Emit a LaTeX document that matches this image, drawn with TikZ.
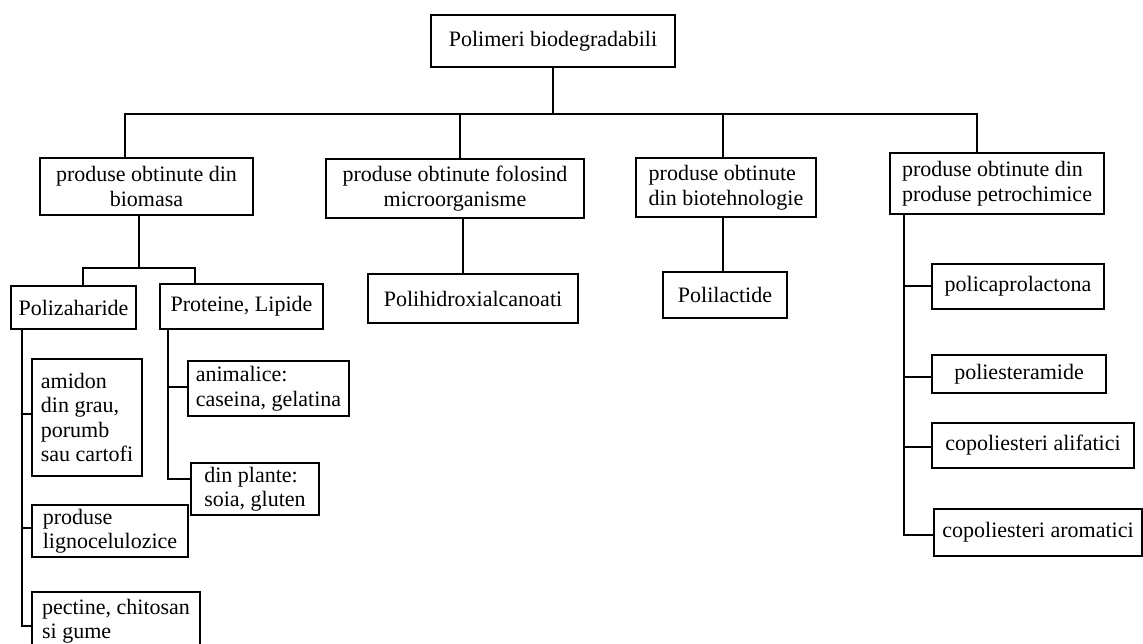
\documentclass[tikz,border=0pt]{standalone}
\usepackage{fontspec}
\setmainfont{Liberation Serif}
\newcommand\bx[7]{\node[box,minimum width={(#4-#2)*1pt},minimum height={(#5-#3)*1pt},#6] (#1) at ({(#2+#4)/2},{(#3+#5)/2}) {#7};}
\begin{document}
\begin{tikzpicture}[x=1pt,y=-1pt,
  box/.style={draw,line width=1.4pt,inner sep=0pt,font=\fontsize{22}{24.5}\selectfont},
  conn/.style={line width=1.4pt}]
\useasboundingbox (0,0) rectangle (1143,644);
% boxes
\bx{root}{431}{15}{675}{67}{align=center}{Polimeri biodegradabili}
\bx{bio}{40}{158}{253}{215}{align=center}{produse obtinute din\\biomasa}
\bx{micro}{326}{159}{584}{218}{align=center}{produse obtinute folosind\\microorganisme}
\bx{biot}{636}{158}{816}{217}{align=left}{produse obtinute\\din biotehnologie}
\bx{petro}{890}{153}{1104}{214}{align=left}{produse obtinute din\\produse petrochimice}
\bx{poliz}{11}{286}{136}{329}{align=center}{Polizaharide}
\bx{prot}{160}{284}{323}{329}{align=center}{Proteine, Lipide}
\bx{amid}{32}{359}{142}{476}{align=left}{amidon\\din grau,\\porumb\\sau cartofi}
\bx{anim}{188}{361}{349}{416}{align=left}{animalice:\\caseina, gelatina}
\bx{plant}{191}{463}{319}{515}{align=left}{din plante:\\soia, gluten}
\bx{ligno}{32}{505}{188}{557}{align=left}{produse\\lignocelulozice}
\bx{pect}{32}{592}{200}{650}{align=left}{pectine, chitosan\\si gume}
\bx{polih}{368}{274}{578}{323}{align=center}{Polihidroxialcanoati}
\bx{polil}{663}{272}{787}{318}{align=center}{Polilactide}
\bx{pcl}{932}{264}{1104}{309}{align=center}{policaprolactona}
\bx{pea}{932}{355}{1106}{393}{align=center}{poliesteramide}
\bx{cali}{932}{423}{1134}{468}{align=center}{copoliesteri alifatici}
\bx{carom}{934}{509}{1142}{556}{align=center}{copoliesteri aromatici}
% junction coordinates
\coordinate (b1) at (125,114);
\coordinate (b2) at (460,114);
\coordinate (b3) at (723,114);
\coordinate (b4) at (977,114);
\coordinate (s0) at (139,268);
\coordinate (s1) at (83,268);
\coordinate (s2) at (195,268);
\coordinate (p1) at (22,414);
\coordinate (p2) at (22,528);
\coordinate (p3) at (22,626);
\coordinate (q1) at (168,387);
\coordinate (q2) at (168,479);
\coordinate (m1) at (463,250);
\coordinate (r1) at (904,286);
\coordinate (r2) at (904,377);
\coordinate (r3) at (904,447);
\coordinate (r4) at (904,535);
% connectors
\draw[conn] (root.south) -- (root.south |- b1);
\draw[conn] (bio.north -| b1) -- (b1) -- (b4) -- (petro.north -| b4);
\draw[conn] (micro.north -| b2) -- (b2);
\draw[conn] (biot.north -| b3) -- (b3);
\draw[conn] (bio.south -| s0) -- (s0);
\draw[conn] (poliz.north -| s1) -- (s1) -- (s2) -- (prot.north -| s2);
\draw[conn] (poliz.south -| p3) -- (p3) -- (p3 -| pect.west);
\draw[conn] (p1) -- (p1 -| amid.west);
\draw[conn] (p2) -- (p2 -| ligno.west);
\draw[conn] (prot.south -| q2) -- (q2) -- (q2 -| plant.west);
\draw[conn] (q1) -- (q1 -| anim.west);
\draw[conn] (micro.south -| m1) -- (polih.north -| m1);
\draw[conn] (biot.south -| b3) -- (polil.north -| b3);
\draw[conn] (petro.south -| r4) -- (r4) -- (r4 -| carom.west);
\draw[conn] (r1) -- (r1 -| pcl.west);
\draw[conn] (r2) -- (r2 -| pea.west);
\draw[conn] (r3) -- (r3 -| cali.west);
\end{tikzpicture}
\end{document}
